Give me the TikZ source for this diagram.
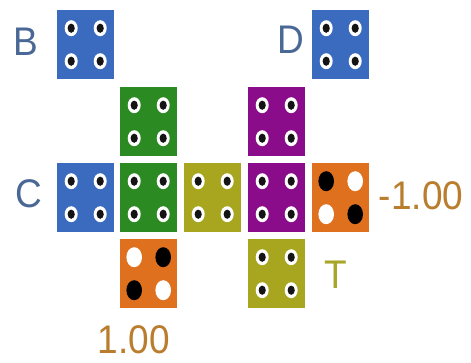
\documentclass[tikz,border=0pt]{standalone}
\usepackage{fontspec}
\setmainfont{Liberation Sans}
\definecolor{sqblue}{RGB}{59,107,191}
\definecolor{sqgreen}{RGB}{44,138,34}
\definecolor{sqolive}{RGB}{168,166,30}
\definecolor{sqpurple}{RGB}{139,12,139}
\definecolor{sqorange}{RGB}{222,112,30}
\definecolor{lblblue}{RGB}{74,104,150}
\definecolor{lblolive}{RGB}{168,165,40}
\definecolor{lblnum}{RGB}{185,125,45}
\tikzset{
  sq/.style={rectangle, inner sep=0pt, minimum width=57pt, minimum height=69pt, anchor=north west},
  lbl/.style={inner sep=0pt, font=\fontsize{37}{40}\selectfont, yscale=1.08, transform shape},
  hole/.pic={\fill[white] (0,0) ellipse[x radius=6.5pt, y radius=8pt];
             \fill[black!92] (0,0) ellipse[x radius=3.6pt, y radius=4.6pt];},
  bigdot/.pic={\fill[#1] (0,0) ellipse[x radius=7.8pt, y radius=10pt];},
}
\newcommand\holes[1]{%
  \foreach \dx in {-14.5,14.5}{\foreach \dy in {-16.5,16.5}{%
    \pic at ([shift={(\dx pt,\dy pt)}]#1.center) {hole};}}}
\newcommand\orangedots[5]{%
  \pic at ([shift={(-14.5pt,16.5pt)}]#1.center) {bigdot=#2};
  \pic at ([shift={(14.5pt,16.5pt)}]#1.center) {bigdot=#3};
  \pic at ([shift={(-14.5pt,-16.5pt)}]#1.center) {bigdot=#4};
  \pic at ([shift={(14.5pt,-16.5pt)}]#1.center) {bigdot=#5};}
\begin{document}
\begin{tikzpicture}[x=1pt,y=-1pt]
\useasboundingbox[fill=white] (0,0) rectangle (471,362);
% squares
\node[sq, fill=sqblue]   (B)  at (57,10)  {};
\node[sq, fill=sqblue]   (D)  at (312,10) {};
\node[sq, fill=sqgreen]  (g1) at (120,87) {};
\node[sq, fill=sqpurple] (p1) at (248,87) {};
\node[sq, fill=sqblue]   (C)  at (57,163) {};
\node[sq, fill=sqgreen]  (g2) at (120,163) {};
\node[sq, fill=sqolive]  (y1) at (184,163) {};
\node[sq, fill=sqpurple] (p2) at (248,163) {};
\node[sq, fill=sqorange] (oR) at (312,163) {};
\node[sq, fill=sqorange] (oB) at (120,239) {};
\node[sq, fill=sqolive]  (y2) at (248,239) {};
% holes
\holes{B}\holes{D}\holes{g1}\holes{p1}\holes{C}\holes{g2}\holes{y1}\holes{p2}\holes{y2}
\orangedots{oR}{black}{white}{white}{black}
\orangedots{oB}{white}{black}{black}{white}
% labels
\node[lbl, text=lblblue]  (tB) at (26,42)  {B};
\node[lbl, text=lblblue]  (tD) at (291,40) {D};
\node[lbl, text=lblblue]  (tC) at (29,194) {C};
\node[lbl, text=lblolive] (tT) at (336,275) {T};
\node[lbl, text=lblnum]   (tm) at (421,196) {-1.00};
\node[lbl, text=lblnum]   (tp) at (134,340) {1.00};
\end{tikzpicture}
\end{document}
